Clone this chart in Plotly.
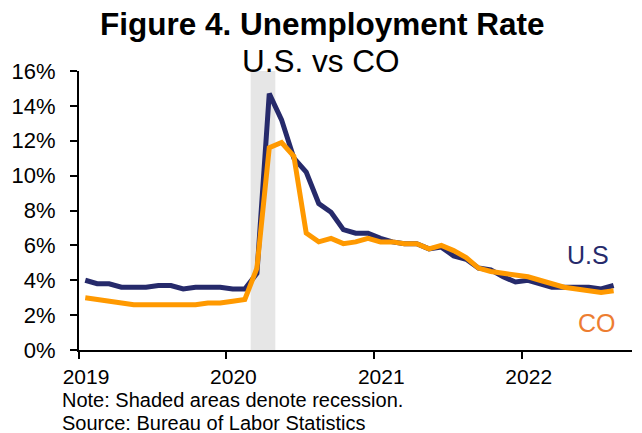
import pandas as pd
import plotly.graph_objects as go

# Monthly unemployment rate (%), Jan 2019 - Aug 2022
first_month = "2019-01-01"
us_rate = [4.0, 3.8, 3.8, 3.6, 3.6, 3.6, 3.7, 3.7, 3.5, 3.6, 3.6, 3.6,
           3.5, 3.5, 4.4, 14.7, 13.2, 11.0, 10.2, 8.4, 7.9, 6.9, 6.7, 6.7,
           6.4, 6.2, 6.1, 6.1, 5.8, 5.9, 5.4, 5.2, 4.7, 4.6, 4.2, 3.9,
           4.0, 3.8, 3.6, 3.6, 3.6, 3.6, 3.5, 3.7]
co_rate = [3.0, 2.9, 2.8, 2.7, 2.6, 2.6, 2.6, 2.6, 2.6, 2.6, 2.7, 2.7,
           2.8, 2.9, 4.7, 11.6, 11.9, 11.1, 6.7, 6.2, 6.4, 6.1, 6.2, 6.4,
           6.2, 6.2, 6.1, 6.1, 5.8, 6.0, 5.7, 5.3, 4.7, 4.5, 4.4, 4.3,
           4.2, 4.0, 3.8, 3.6, 3.5, 3.4, 3.3, 3.4]
recession = ["2020-03-01", "2020-05-01"]
year_ticks = ["2019-01-01", "2020-01-01", "2021-01-01", "2022-01-01"]
year_labels = ["2019", "2020", "2021", "2022"]
y_ticks = [0, 2, 4, 6, 8, 10, 12, 14, 16]

NAVY = "#262A6B"
ORANGE = "#FF9900"
FONT = "Liberation Sans, Arial, sans-serif"

# each month is plotted at the middle of its period
starts = pd.date_range(first_month, periods=len(us_rate), freq="MS")
ends = starts + pd.offsets.MonthBegin(1)
mids = starts + (ends - starts) / 2
x_end = ends[-1] + pd.offsets.MonthBegin(1)

fig = go.Figure()
fig.add_trace(go.Scatter(x=mids, y=us_rate, mode="lines", name="U.S",
                         line=dict(color=NAVY, width=5)))
fig.add_trace(go.Scatter(x=mids, y=co_rate, mode="lines", name="CO",
                         line=dict(color=ORANGE, width=5)))

fig.add_shape(type="rect", xref="x", yref="paper",
              x0=recession[0], x1=recession[1], y0=0, y1=1,
              fillcolor="#E6E6E6", line_width=0, layer="below")

fig.update_layout(
    width=642, height=433,
    margin=dict(l=79, r=10, t=71, b=83),
    paper_bgcolor="white", plot_bgcolor="white",
    showlegend=False,
    font=dict(family=FONT, color="black", size=22),
)
fig.update_xaxes(
    type="date", range=[first_month, x_end],
    tickvals=year_ticks, ticktext=year_labels,
    showgrid=False, zeroline=False,
    showline=True, linecolor="black", linewidth=2,
    ticks="outside", ticklen=7, tickwidth=2, tickcolor="black",
    ticklabelshift=7, ticklabelstandoff=0,
    tickfont=dict(size=21),
)
fig.update_yaxes(
    range=[0, 16], tickvals=y_ticks,
    ticktext=[f"{v}%" for v in y_ticks],
    showgrid=False, zeroline=False,
    showline=True, linecolor="black", linewidth=2,
    ticks="outside", ticklen=7, tickwidth=2, tickcolor="black",
    ticklabelstandoff=10,
    tickfont=dict(size=22),
)

annotations = [
    dict(text="<b>Figure 4. Unemployment Rate</b>", x=0.44, y=1.17,
         font=dict(size=31.5)),
    dict(text="U.S. vs CO", x=0.437, y=1.035, font=dict(size=31.5)),
    dict(text="U.S", x=0.92, y=0.34, font=dict(size=25, color=NAVY)),
    dict(text="CO", x=0.936, y=0.095, font=dict(size=25, color="#ED7D31")),
]
for a in annotations:
    fig.add_annotation(xref="paper", yref="paper", showarrow=False,
                       xanchor="center", yanchor="middle", **a)

fig.add_annotation(text="Note: Shaded areas denote recession.",
                   xref="paper", yref="paper", x=-0.032, y=-0.181,
                   xanchor="left", yanchor="middle", showarrow=False,
                   borderpad=0, font=dict(size=20))
fig.add_annotation(text="Source: Bureau of Labor Statistics",
                   xref="paper", yref="paper", x=-0.032, y=-0.261,
                   xanchor="left", yanchor="middle", showarrow=False,
                   borderpad=0, font=dict(size=20))

fig.write_html("out.html")
